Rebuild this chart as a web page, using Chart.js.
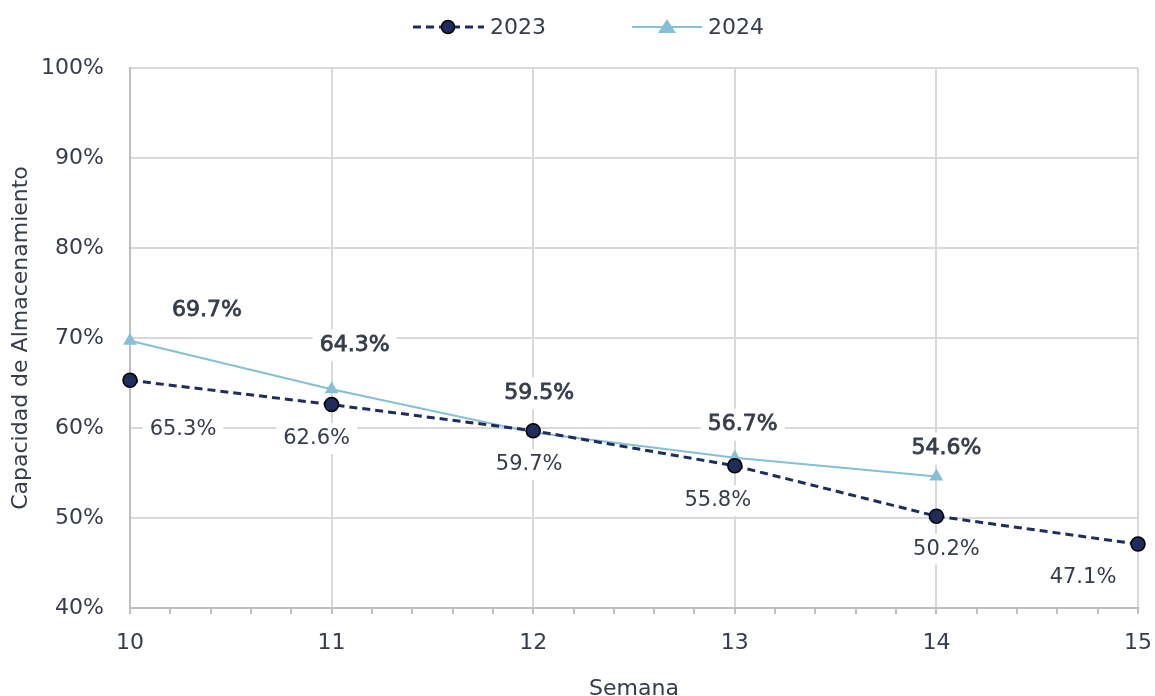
<!DOCTYPE html>
<html lang="es">
<head>
<meta charset="utf-8">
<title>Capacidad de Almacenamiento</title>
<script src="https://cdn.jsdelivr.net/npm/chart.js@4.4.1/dist/chart.umd.min.js"></script>
<style>
  html, body { margin: 0; padding: 0; background: #ffffff; }
  #contenedor { width: 1155px; height: 696px; }
</style>
</head>
<body>
<div id="contenedor"><canvas id="grafico" width="1155" height="696"></canvas></div>
<script>
// Datos
const semanas = [10, 11, 12, 13, 14, 15];
const valores2023 = [65.3, 62.6, 59.7, 55.8, 50.2, 47.1];
const valores2024 = [69.7, 64.3, 59.5, 56.7, 54.6];
const ticksY = [40, 50, 60, 70, 80, 90, 100];

// Desplazamiento de las etiquetas respecto al punto (solo estilo)
const ajusteEtiquetas2023 = [[53, 49], [-15, 34], [-4, 34], [-17, 35], [10, 33], [-55, 33]];
const ajusteEtiquetas2024 = [[77, -30], [23, -44], [6, -39], [8, -33], [10, -28]];

const fuente = '"DejaVu Sans", sans-serif';
const colorTexto = '#353c4a';
const colorOscuro = '#1f2c5c';
const colorClaro = '#86bfd6';

function aPuntos(valores) {
  return valores.map((v, i) => ({ x: semanas[i], y: v }));
}

function esEntero(v) {
  return Math.abs(v - Math.round(v)) < 1e-6;
}

// Etiquetas de datos con fondo blanco
const pluginEtiquetas = {
  id: 'etiquetas',
  afterDatasetsDraw(chart) {
    const ctx = chart.ctx;
    const config = [
      { ajustes: ajusteEtiquetas2023, valores: valores2023, grueso: 0, tam: 21 },
      { ajustes: ajusteEtiquetas2024, valores: valores2024, grueso: 0.8, tam: 22 }
    ];
    ctx.save();
    ctx.textAlign = 'center';
    ctx.textBaseline = 'middle';
    config.forEach((c, d) => {
      const meta = chart.getDatasetMeta(d);
      ctx.font = c.tam + 'px ' + fuente;
      meta.data.forEach((p, i) => {
        const texto = c.valores[i].toFixed(1) + '%';
        const x = p.x + c.ajustes[i][0];
        const y = p.y + c.ajustes[i][1];
        const w = ctx.measureText(texto).width + 14;
        const h = c.tam + 10;
        ctx.fillStyle = '#ffffff';
        ctx.fillRect(x - w / 2, y - h / 2, w, h);
        ctx.fillStyle = colorTexto;
        ctx.fillText(texto, x, y);
        if (c.grueso > 0) {
          // simula semi-negrita
          ctx.strokeStyle = colorTexto;
          ctx.lineWidth = c.grueso;
          ctx.strokeText(texto, x, y);
        }
      });
    });
    ctx.restore();
  }
};

// Leyenda dibujada a mano (línea + marcador)
const pluginLeyenda = {
  id: 'leyendaPropia',
  afterDraw(chart) {
    const ctx = chart.ctx;
    const y = 27;
    ctx.save();
    // 2023
    ctx.strokeStyle = colorOscuro;
    ctx.lineWidth = 3;
    ctx.setLineDash([8, 5]);
    ctx.beginPath();
    ctx.moveTo(413, y);
    ctx.lineTo(484, y);
    ctx.stroke();
    ctx.setLineDash([]);
    ctx.fillStyle = colorOscuro;
    ctx.strokeStyle = '#000000';
    ctx.lineWidth = 1.5;
    ctx.beginPath();
    ctx.arc(448, y, 6.5, 0, Math.PI * 2);
    ctx.fill();
    ctx.stroke();
    // 2024
    ctx.strokeStyle = colorClaro;
    ctx.lineWidth = 2;
    ctx.beginPath();
    ctx.moveTo(632, y);
    ctx.lineTo(702, y);
    ctx.stroke();
    ctx.fillStyle = colorClaro;
    ctx.beginPath();
    ctx.moveTo(667, y - 8);
    ctx.lineTo(676, y + 6);
    ctx.lineTo(658, y + 6);
    ctx.closePath();
    ctx.fill();
    // textos
    ctx.fillStyle = colorTexto;
    ctx.font = '22px ' + fuente;
    ctx.textBaseline = 'middle';
    ctx.fillText('2023', 490, y + 1);
    ctx.fillText('2024', 708, y + 1);
    ctx.restore();
  }
};

function crearGrafico() {
  const ctx = document.getElementById('grafico').getContext('2d');
  new Chart(ctx, {
    type: 'line',
    data: {
      datasets: [
        {
          label: '2023',
          data: aPuntos(valores2023),
          borderColor: colorOscuro,
          borderWidth: 3,
          borderDash: [8, 5],
          backgroundColor: colorOscuro,
          pointStyle: 'circle',
          pointRadius: 7,
          pointBorderColor: '#000000',
          pointBorderWidth: 1.5,
          pointBackgroundColor: colorOscuro,
          clip: false,
          tension: 0
        },
        {
          label: '2024',
          data: aPuntos(valores2024),
          borderColor: colorClaro,
          borderWidth: 2,
          backgroundColor: colorClaro,
          pointStyle: 'triangle',
          pointRadius: 8,
          pointBorderWidth: 0,
          pointBackgroundColor: colorClaro,
          clip: false,
          tension: 0
        }
      ]
    },
    options: {
      responsive: false,
      animation: false,
      layout: { padding: { top: 68, right: 17, left: 0, bottom: 0 } },
      plugins: {
        legend: { display: false },
        tooltip: { enabled: false }
      },
      scales: {
        x: {
          type: 'linear',
          min: semanas[0],
          max: semanas[semanas.length - 1],
          afterFit: s => {
            s.height = 88;
            s.paddingLeft = 0;
            s.paddingRight = 0;
          },
          afterBuildTicks: s => {
            const t = [];
            for (let i = 0; i <= 25; i++) t.push({ value: semanas[0] + i * 0.2 });
            s.ticks = t;
          },
          ticks: {
            autoSkip: false,
            maxRotation: 0,
            padding: 16,
            color: colorTexto,
            font: { family: fuente, size: 22 },
            callback: v => esEntero(v) ? Math.round(v) : ''
          },
          grid: {
            color: c => esEntero(c.tick.value) ? '#d9d9d9' : 'rgba(0,0,0,0)',
            tickColor: '#bfbfbf',
            tickLength: 6,
            lineWidth: 2
          },
          border: { color: '#bfbfbf', width: 2 },
          title: {
            display: true,
            text: 'Semana',
            color: colorTexto,
            font: { family: fuente, size: 22 },
            padding: { top: 10, bottom: -6 }
          }
        },
        y: {
          min: ticksY[0],
          max: ticksY[ticksY.length - 1],
          afterFit: s => {
            s.width = 130;
            s.paddingTop = 0;
            s.paddingBottom = 0;
          },
          afterBuildTicks: s => { s.ticks = ticksY.map(v => ({ value: v })); },
          ticks: {
            padding: 26,
            color: colorTexto,
            font: { family: fuente, size: 22 },
            callback: v => v + '%'
          },
          grid: { color: '#d9d9d9', lineWidth: 2, drawTicks: false },
          border: { color: '#bfbfbf', width: 2 },
          title: {
            display: true,
            text: 'Capacidad de Almacenamiento',
            color: colorTexto,
            font: { family: fuente, size: 22 },
            padding: { top: 8, bottom: 0 }
          }
        }
      }
    },
    plugins: [pluginEtiquetas, pluginLeyenda]
  });
}

window.addEventListener('load', crearGrafico);
</script>
</body>
</html>
